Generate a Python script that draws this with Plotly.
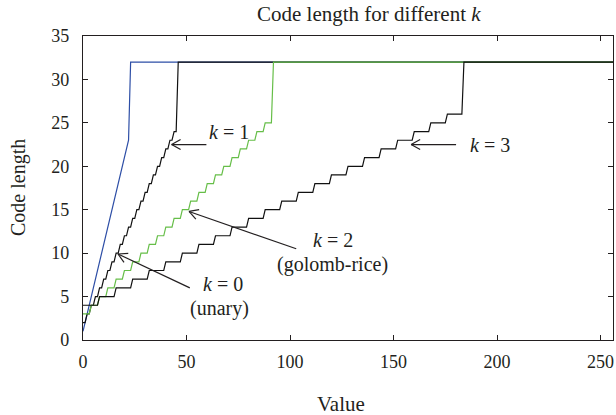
import math
import plotly.graph_objects as go

# ---- data: start value of each step and its code length ----
k0_starts = [0, 1, 2, 3, 4, 5, 6, 7, 8, 9, 10, 11, 12, 13, 14, 15, 16, 17, 18, 19, 20, 21, 22, 23]
k0_levels = [1, 2, 3, 4, 5, 6, 7, 8, 9, 10, 11, 12, 13, 14, 15, 16, 17, 18, 19, 20, 21, 22, 23, 32]

k1_starts = [0, 2, 4, 6, 8, 10, 12, 14, 16, 18, 20, 22, 24, 26, 28, 30, 32, 34, 36, 38, 40, 42, 44, 46]
k1_levels = [2, 3, 4, 5, 6, 7, 8, 9, 10, 11, 12, 13, 14, 15, 16, 17, 18, 19, 20, 21, 22, 23, 24, 32]

k2_starts = [0, 4, 8, 12, 16, 20, 24, 28, 32, 36, 40, 44, 48, 52, 56, 60, 64, 68, 72, 76, 80, 84, 88, 92]
k2_levels = [3, 4, 5, 6, 7, 8, 9, 10, 11, 12, 13, 14, 15, 16, 17, 18, 19, 20, 21, 22, 23, 24, 25, 32]

k3_starts = [0, 8, 16, 24, 32, 40, 48, 56, 64, 72, 80, 88, 96, 104, 112, 120, 128, 136, 144, 152, 160, 168, 176, 184]
k3_levels = [4, 5, 6, 7, 8, 9, 10, 11, 12, 13, 14, 15, 16, 17, 18, 19, 20, 21, 22, 23, 24, 25, 26, 32]

x_end = 256
x_ticks = [0, 50, 100, 150, 200, 250]
y_ticks = [0, 5, 10, 15, 20, 25, 30, 35]

# label texts (data coordinates): (text, x, y, yanchor)
texts = [
    ("<i>k</i> = 1", 70.5, 23.9, "middle"),
    ("<i>k</i> = 3", 196.5, 22.5, "middle"),
    ("<i>k</i> = 2", 120.8, 10.13, "bottom"),
    ("(golomb-rice)", 120.3, 10.13, "top"),
    ("<i>k</i> = 0", 67.6, 5.07, "bottom"),
    ("(unary)", 65.7, 5.07, "top"),
]
# arrows: (tail, tip) in data coordinates
arrows = [
    ((59.6, 22.5), (42.8, 22.5)),
    ((180.2, 22.5), (158.5, 22.5)),
    ((103.0, 10.5), (51.2, 14.8)),
    ((51.6, 6.0), (16.9, 9.9)),
]

FONT = "Liberation Serif"
INK = "#231f20"


def step_line(starts, levels, end):
    xs, ys = [], []
    for i, (s, lv) in enumerate(zip(starts, levels)):
        e = starts[i + 1] - 1 if i + 1 < len(starts) else end
        xs += [s, e]
        ys += [lv, lv]
    return xs, ys


series = [
    ("k = 0", k0_starts, k0_levels, "#2d4ea6"),
    ("k = 1", k1_starts, k1_levels, "#111111"),
    ("k = 2", k2_starts, k2_levels, "#66be48"),
    ("k = 3", k3_starts, k3_levels, "#111111"),
]

fig = go.Figure()
for name, st, lv, col in series:
    xs, ys = step_line(st, lv, x_end)
    fig.add_trace(go.Scatter(x=xs, y=ys, mode="lines", name=name,
                             line=dict(color=col, width=1.2), showlegend=False))

L, R, T, B = 83, 3, 36, 75
W, H = 616, 415
PX_X = (W - L - R) / 256.0
PX_Y = (H - T - B) / 35.0

shapes = []
annots = []
for tail, tip in arrows:
    shapes.append(dict(type="line", xref="x", yref="y", x0=tail[0], y0=tail[1],
                       x1=tip[0], y1=tip[1], line=dict(color=INK, width=1.2)))
    dx = (tip[0] - tail[0]) * PX_X
    dy = (tip[1] - tail[1]) * PX_Y
    ln = math.hypot(dx, dy)
    ux, uy = dx / ln, dy / ln
    for sgn in (1, -1):
        ox = -9 * ux + sgn * 5 * (-uy)
        oy = -9 * uy + sgn * 5 * ux
        shapes.append(dict(type="line", xref="x", yref="y", x0=tip[0], y0=tip[1],
                           x1=tip[0] + ox / PX_X, y1=tip[1] + oy / PX_Y,
                           line=dict(color=INK, width=1.2)))

for text, tx, ty, ya in texts:
    annots.append(dict(x=tx, y=ty, xref="x", yref="y", text=text, showarrow=False,
                       font=dict(family=FONT, size=20, color=INK), borderpad=0,
                       xanchor="center", yanchor=ya))

annots.append(dict(x=(369 - L) / (W - L - R), y=(H - B - 14) / (H - T - B), xref="paper", yref="paper",
                   text="Code length for different <i>k</i>", showarrow=False,
                   font=dict(family=FONT, size=21, color=INK), xanchor="center", yanchor="middle"))
annots.append(dict(x=(341 - L) / (W - L - R), y=(H - B - 404) / (H - T - B), xref="paper", yref="paper",
                   text="Value", showarrow=False,
                   font=dict(family=FONT, size=21, color=INK), xanchor="center", yanchor="middle"))
annots.append(dict(x=(18 - L) / (W - L - R), y=0.5, xref="paper", yref="paper",
                   text="Code length", showarrow=False, textangle=-90,
                   font=dict(family=FONT, size=20, color=INK), xanchor="center", yanchor="middle"))

axis_common = dict(showgrid=False, zeroline=False, showline=True, linecolor=INK, linewidth=1.2,
                   ticks="inside", ticklen=5, tickwidth=1.1, tickcolor=INK, mirror="ticks",
                   tickfont=dict(family=FONT, size=18, color=INK))

fig.update_layout(
    width=W, height=H,
    margin=dict(l=L, r=R, t=T, b=B),
    paper_bgcolor="white", plot_bgcolor="white",
    xaxis=dict(range=[0, 256], tickvals=x_ticks, ticklabelstandoff=5, **axis_common),
    yaxis=dict(range=[0, 35], tickvals=y_ticks, ticklabelstandoff=9, **axis_common),
    shapes=shapes, annotations=annots,
)

fig.write_html("out.html")
